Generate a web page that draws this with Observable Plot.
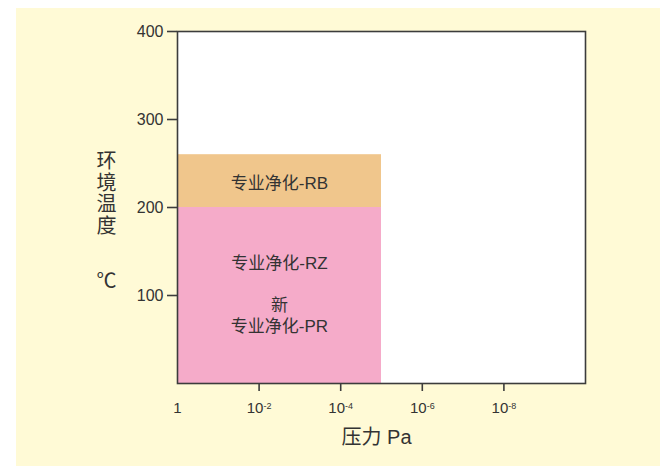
<!DOCTYPE html>
<html>
<head>
<meta charset="utf-8">
<script src="https://cdn.jsdelivr.net/npm/d3@7"></script>
<script src="https://cdn.jsdelivr.net/npm/@observablehq/plot@0.6"></script>
<style>
  html, body { margin: 0; padding: 0; background: #ffffff; }
  #wrap { position: relative; width: 660px; height: 466px; overflow: hidden; }
  #bg { position: absolute; left: 16px; top: 8px; width: 644px; height: 458px; background: #fffad6; }
  #chart { position: absolute; left: 0; top: 0; }
  #chart svg { background: transparent; }
</style>
</head>
<body>
<div id="wrap"><div id="bg"></div><div id="chart"></div></div>
<script>
// Data
const regionNames = ["专业净化-RZ", "专业净化-RB"];
const regionPressureHigh = [1, 1];        // Pa
const regionPressureLow = [1e-5, 1e-5];   // Pa
const regionTempLow = [0, 200];           // ℃
const regionTempHigh = [200, 260];        // ℃
const regionColors = ["#f5abc9", "#f0c68c"];

const labelTexts = ["专业净化-RB", "专业净化-RZ", "新\n专业净化-PR"];
const labelPressure = [Math.pow(10, -2.5), Math.pow(10, -2.5), Math.pow(10, -2.5)];
const labelTemp = [228, 137, 78];

const xTicks = [1, 1e-2, 1e-4, 1e-6, 1e-8];
const xTickExponents = [0, -2, -4, -6, -8];
const yTicks = [100, 200, 300, 400];

const regions = regionNames.map((name, i) => ({
  name,
  x1: regionPressureHigh[i], x2: regionPressureLow[i],
  y1: regionTempLow[i], y2: regionTempHigh[i],
  color: regionColors[i]
}));
const labels = labelTexts.map((t, i) => ({t, x: labelPressure[i], y: labelTemp[i]}));

const FONT = '"Liberation Sans", "Noto Sans CJK SC", sans-serif';

const fmtX = (d) => {
  const e = Math.round(Math.log10(d));
  return e === 0 ? "1" : "10" + e;
};

const chart = Plot.plot({
  width: 660,
  height: 466,
  marginLeft: 177,
  marginRight: 75,
  marginTop: 31,
  marginBottom: 83,
  style: {fontFamily: FONT, color: "#333", background: "transparent"},
  x: {type: "log", domain: [1, 1e-10]},
  y: {domain: [0, 400]},
  marks: [
    Plot.frame({fill: "white"}),
    Plot.rect(regions, {x1: "x1", x2: "x2", y1: "y1", y2: "y2", fill: "color"}),
    Plot.text(labels, {x: "x", y: "y", text: "t", fontSize: 17, fill: "#333", lineHeight: 1.2, fontFamily: FONT}),
    Plot.frame({stroke: "#3c3c3c", strokeWidth: 1.6}),
    Plot.axisY({ticks: yTicks, tickSize: 10, tickPadding: 4, fontSize: 16, strokeWidth: 1.6, stroke: "#3c3c3c", fill: "#333", label: null, tickFormat: d => String(d)}),
    Plot.axisX({ticks: xTicks.slice(1), tickSize: 8, strokeWidth: 1.6, stroke: "#3c3c3c", tickFormat: () => "", label: null}),
    Plot.axisX({ticks: xTicks, tickSize: 0, tickPadding: 19, fontSize: 15, fill: "#333", tickFormat: fmtX, label: null}),
    Plot.text(["压力 Pa"], {frameAnchor: "bottom", dx: -5, dy: 60, fontSize: 20, fill: "#333", fontFamily: FONT}),
    Plot.text(["环\n境\n温\n度"], {frameAnchor: "left", dx: -71, dy: -14, fontSize: 20, lineHeight: 1.08, fill: "#333", fontFamily: FONT, textAnchor: "middle"}),
    Plot.text(["℃"], {frameAnchor: "left", dx: -71, dy: 74, fontSize: 20, fill: "#333", fontFamily: FONT, textAnchor: "middle"})
  ]
});

document.getElementById("chart").appendChild(chart);

// Render exponents as superscripts
chart.querySelectorAll('g[aria-label="x-axis tick label"] text').forEach(t => {
  const s = t.textContent;
  if (s.startsWith("10") && s.length > 2) {
    const exp = s.slice(2);
    t.textContent = "";
    const base = document.createElementNS("http://www.w3.org/2000/svg", "tspan");
    base.textContent = "10";
    const sup = document.createElementNS("http://www.w3.org/2000/svg", "tspan");
    sup.textContent = exp;
    sup.setAttribute("dy", "-0.45em");
    sup.setAttribute("font-size", "9");
    t.appendChild(base);
    t.appendChild(sup);
  }
});
</script>
</body>
</html>
